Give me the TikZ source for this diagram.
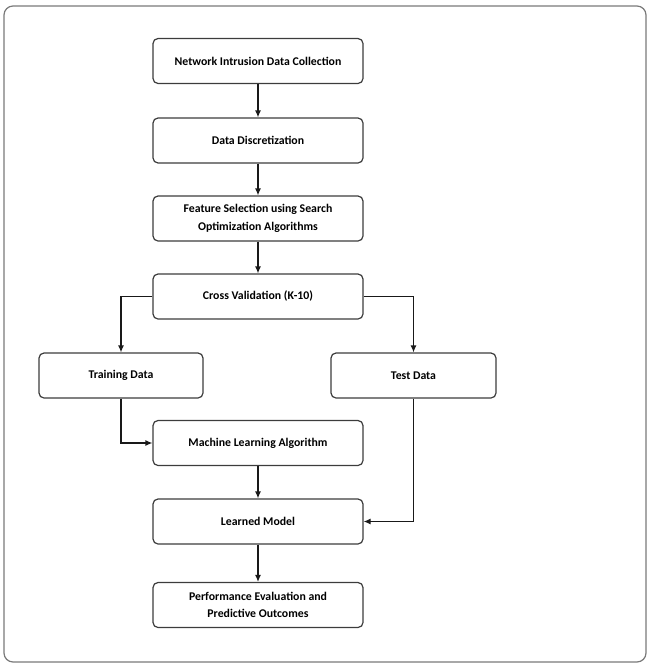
\documentclass[tikz,border=0pt]{standalone}
\usepackage{fontspec}
\setmainfont{Carlito}
\usepackage{tikz}
\usetikzlibrary{arrows.meta,positioning,calc}
\definecolor{frameGray}{HTML}{7A7A7A}
\definecolor{boxLine}{HTML}{3C3C3C}
\tikzset{
  etapa/.style={draw=boxLine, line width=1.2pt, rounded corners=5pt, align=center, font=\fontsize{11.8}{17.5}\selectfont\bfseries, minimum height=45pt, minimum width=#1, inner sep=2pt},
  etapa/.default=210pt,
  flecha/.style={-{Latex[length=7pt,width=6pt]}, line width=1.2pt, draw=black!90},
  marco/.style={draw=frameGray, line width=1.2pt, rounded corners=9pt},
}
\begin{document}
\begin{tikzpicture}[x=1pt,y=1pt]
\useasboundingbox (0,0) rectangle (647,-664);
\draw[marco] (4,-6) rectangle (646,-662);
% columna central
\node[etapa] (colecta) at (258,-61) {Network Intrusion Data Collection};
\node[etapa] (discret) at (258,-140.5) {Data Discretization};
\node[etapa] (seleccion) at (258,-218.5) {Feature Selection using Search\\Optimization Algorithms};
\node[etapa] (cruzada) at (258,-296.5) {Cross Validation (K-10)};
\node[etapa=164pt] (entreno) at (121,-375.5) {Training Data};
\node[etapa=165pt] (prueba) at (413.5,-375.5) {Test Data};
\node[etapa] (algoritmo) at (258,-443) {Machine Learning Algorithm};
\node[etapa] (modelo) at (258,-521.5) {Learned Model};
\node[etapa] (evalua) at (258,-605) {Performance Evaluation and\\Predictive Outcomes};
% flechas
\draw[flecha] (colecta) -- (discret);
\draw[flecha] (discret) -- (seleccion);
\draw[flecha] (seleccion) -- (cruzada);
\draw[flecha] (cruzada.west) -| (entreno.north);
\draw[flecha] (cruzada.east) -| (prueba.north);
\draw[flecha] (entreno.south) |- (algoritmo.west);
\draw[flecha] (algoritmo) -- (modelo);
\draw[flecha] (prueba.south) |- (modelo.east);
\draw[flecha] (modelo) -- (evalua);
\end{tikzpicture}
\end{document}
